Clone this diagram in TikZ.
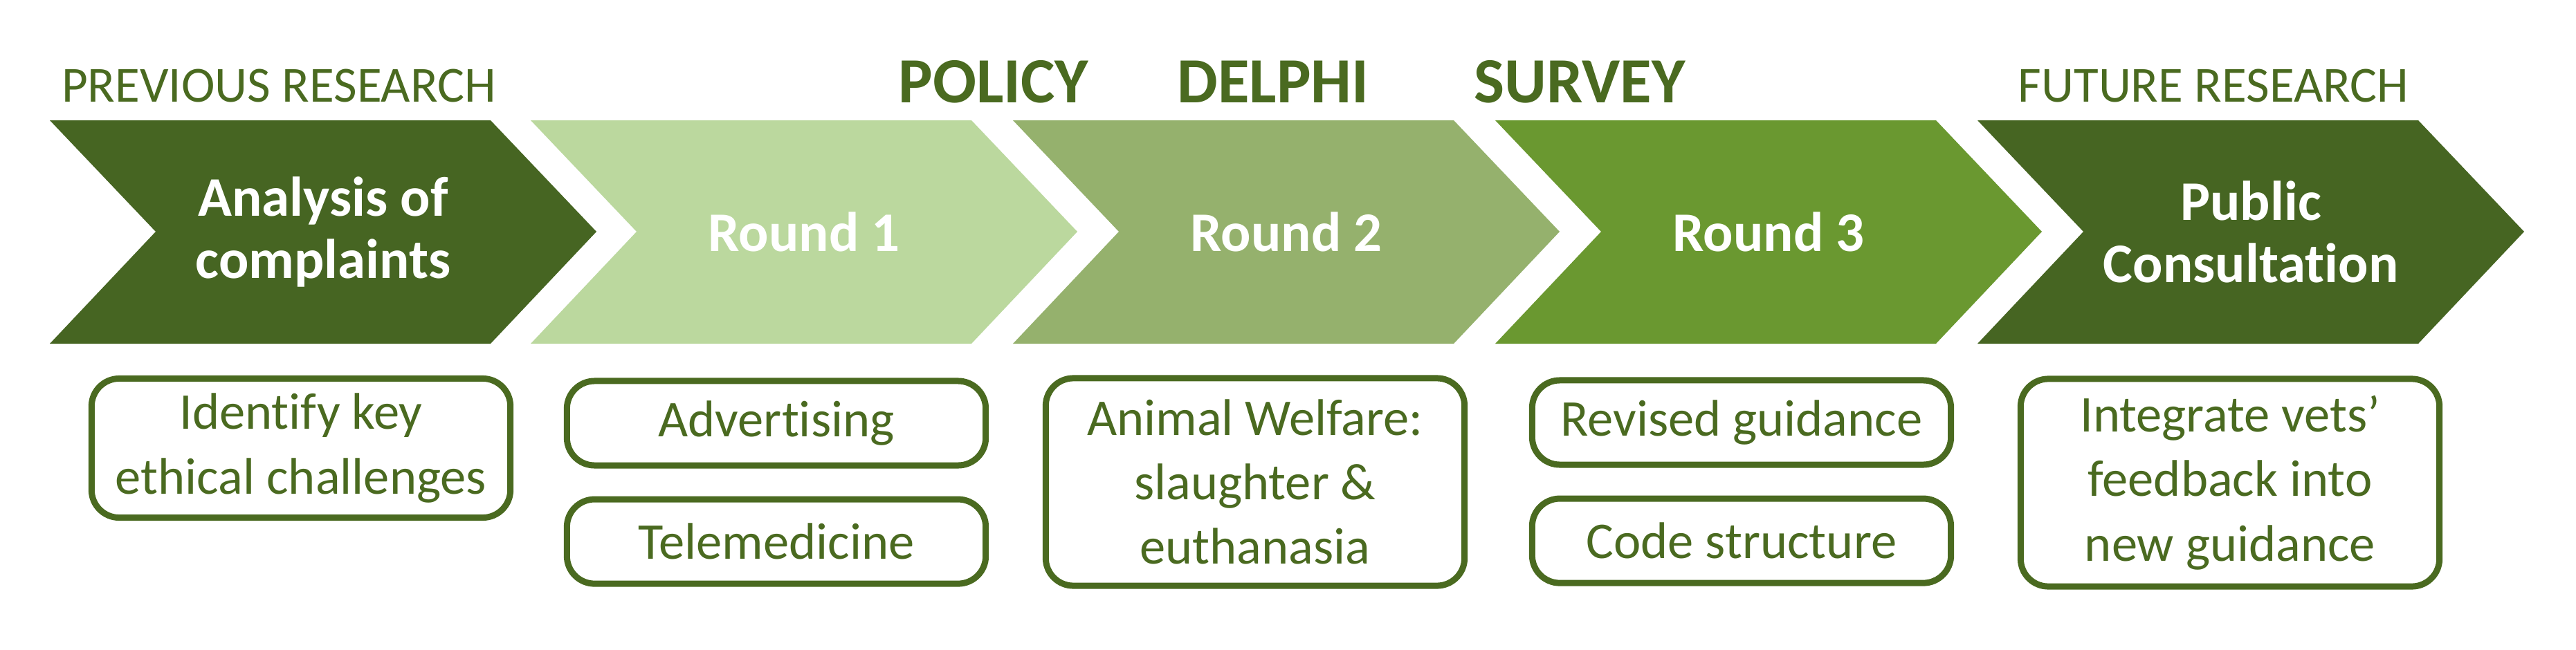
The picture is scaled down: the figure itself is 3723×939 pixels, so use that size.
\documentclass[tikz,border=0pt]{standalone}
\usepackage{fontspec}
\setmainfont{Carlito}[Ligatures=NoCommon]
\usetikzlibrary{positioning}

\definecolor{leafdark}{HTML}{466522}
\definecolor{leaflight}{HTML}{BBD89E}
\definecolor{leafmid}{HTML}{95B16D}
\definecolor{leafgrass}{HTML}{6A9830}
\definecolor{leaftext}{HTML}{4A6A20}

\tikzset{
    phase/.style={text=leaftext, font=\fontsize{20.8}{25}\selectfont, anchor=base},
    delphi/.style={text=leaftext, font=\bfseries\fontsize{26.5}{30}\selectfont, anchor=base},
    steptext/.style={text=white, font=\bfseries\fontsize{23}{25.6}\selectfont, align=center},
    topic/.style={draw=leaftext, line width=2.56pt, rounded corners=0.4cm, text=leaftext, align=center,
        font=\fontsize{21.2}{26.5}\selectfont, minimum width=6.05cm, inner sep=0pt},
}

\begin{document}
\begin{tikzpicture}[x=0.01cm, y=-0.01cm]
        \useasboundingbox (0,0) rectangle (3723,939);
        % chevrons
        \foreach \s/\col/\txt [count=\i] in {72/leafdark/{Analysis of\\complaints}, 767/leaflight/{Round 1},
            1464/leafmid/{Round 2}, 2161/leafgrass/{Round 3}, 2858/leafdark/{Public\\Consultation}} {
            \fill[\col] (\s,174) -- ++(637,0) -- ++(153,161) -- ++(-153,162) -- ++(-637,0) -- ++(153,-162) -- cycle;
            \node[steptext] (step\i) at (\s+395,335) {\txt};
        }
        % headings
        \node[phase] (prev) at (403,147) {PREVIOUS RESEARCH};
        \node[delphi] (policy) at (1436,148) {POLICY};
        \node[delphi] (delphi) at (1840,148) {DELPHI};
        \node[delphi] (survey) at (2283,148) {SURVEY};
        \node[phase] (future) at (3199,147) {FUTURE RESEARCH};
        % topics
        \node[topic, minimum height=2.01cm] (keys) at (435,648) {Identify key\\ethical challenges};
        \node[topic, minimum height=1.22cm] (advert) at (1122,612) {Advertising};
        \node[topic, minimum height=1.22cm, below=0.4cm of advert] (telemed) {Telemedicine};
        \node[topic, minimum height=3.0cm] (welfare) at (1814,697) {Animal Welfare:\\slaughter \&\\euthanasia};
        \node[topic, minimum height=1.22cm] (revised) at (2517,611) {Revised guidance};
        \node[topic, minimum height=1.22cm, below=0.4cm of revised] (code) {Code structure};
        \node[topic, minimum height=3.0cm] (integrate) at (3223,698) {Integrate vets’\\feedback into\\new guidance};
    \end{tikzpicture}
\end{document}
